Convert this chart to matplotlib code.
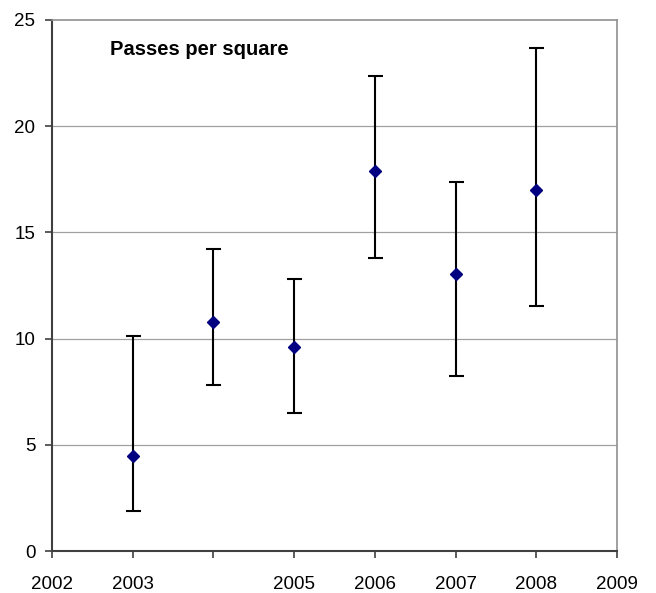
import matplotlib.pyplot as plt
import numpy as np

plt.rcParams['font.family'] = ['Liberation Sans', 'DejaVu Sans']

years = [2003, 2004, 2005, 2006, 2007, 2008]
passes = [4.45, 10.8, 9.6, 17.9, 13.05, 17.0]
err_low = [1.9, 7.8, 6.5, 13.8, 8.25, 11.55]
err_high = [10.1, 14.2, 12.8, 22.35, 17.35, 23.7]

x_ticks = [2002, 2003, 2004, 2005, 2006, 2007, 2008, 2009]
x_labels = ["2002", "2003", "", "2005", "2006", "2007", "2008", "2009"]
y_ticks = [0, 5, 10, 15, 20, 25]

fig = plt.figure(figsize=(6.56, 5.93), dpi=100)
ax = fig.add_axes([0.0793, 0.0708, 0.8612, 0.8955])

y = np.array(passes)
yerr = [y - np.array(err_low), np.array(err_high) - y]
ax.errorbar(years, y, yerr=yerr, fmt='D', color='#000080', markersize=6.6,
            ecolor='black', elinewidth=1.5, capsize=5.4, capthick=1.5, zorder=3)

ax.set_xlim(2002, 2009)
ax.set_ylim(0, 25)
ax.set_xticks(x_ticks)
ax.set_xticklabels(x_labels)
ax.set_yticks(y_ticks)
ax.tick_params(axis='both', labelsize=13.5, direction='out', length=5,
               width=1.2, color='#404040')
ax.tick_params(axis='x', pad=13)
ax.tick_params(axis='y', pad=7)

for v in y_ticks[1:-1]:
    ax.axhline(v, color='#a0a0a0', lw=0.9, zorder=1)

ax.spines['left'].set_color('#404040')
ax.spines['bottom'].set_color('#404040')
ax.spines['left'].set_linewidth(1.5)
ax.spines['bottom'].set_linewidth(1.5)
ax.spines['top'].set_color('#909090')
ax.spines['right'].set_color('#909090')
ax.spines['top'].set_linewidth(1.2)
ax.spines['right'].set_linewidth(1.2)

ax.text(0.1027, 0.9435, "Passes per square", transform=ax.transAxes,
        fontsize=14.5, fontweight='bold', va='center', ha='left')

fig.savefig("out.png", dpi=100)
